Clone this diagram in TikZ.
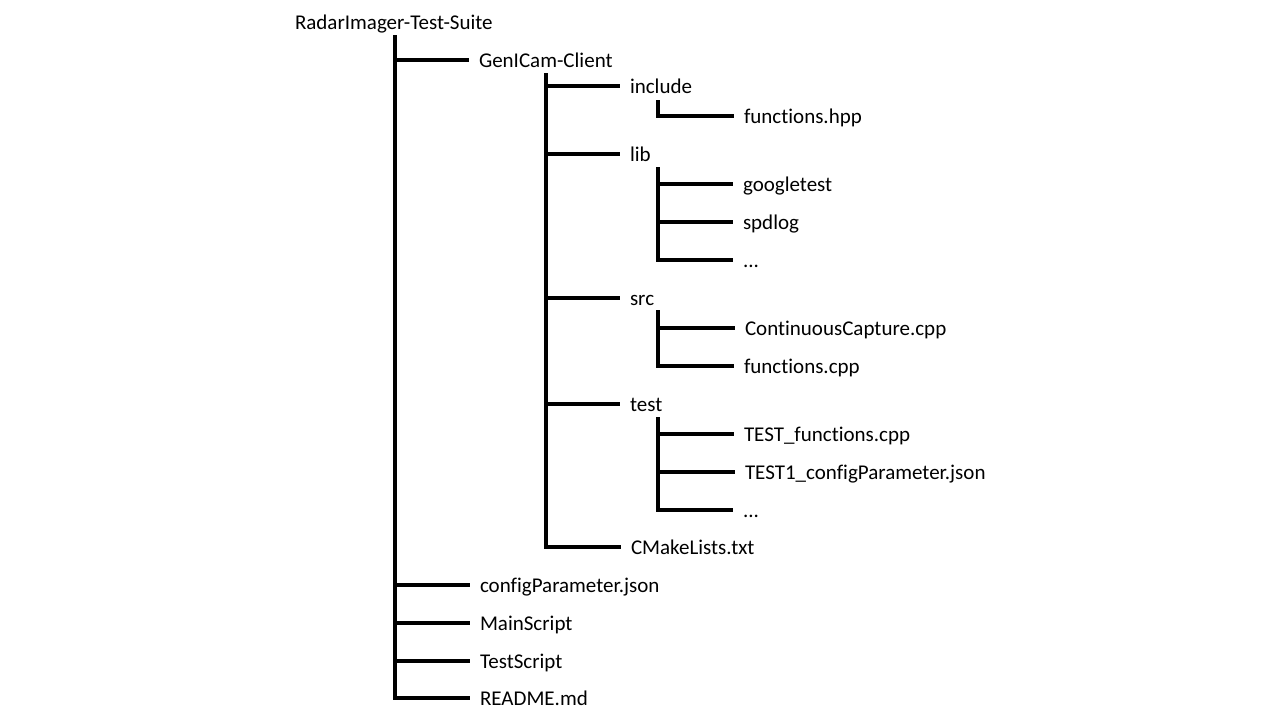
\documentclass[tikz,border=0pt]{standalone}
\usepackage{fontspec}
\setmainfont{Carlito}[Ligatures=NoCommon]
\usepackage{tikz}

\begin{document}
\begin{tikzpicture}[x=1pt,y=-1pt,
  entry/.style={anchor=west,inner xsep=10pt,inner ysep=0pt,outer sep=0pt,text height=15pt,text depth=1pt,font=\fontsize{21}{25}\selectfont},
  branch/.style={line width=3.6pt,line join=miter}]

\useasboundingbox (0,0) rectangle (1280,720);

\node[entry] (root) at (285,22) {RadarImager-Test-Suite};
\node[entry] (gen) at (469,60) {GenICam-Client};
\node[entry] (inc) at (620,86) {include};
\node[entry] (fhpp) at (734,116) {functions.hpp};
\node[entry] (lib) at (620,154) {lib};
\node[entry] (gtest) at (733,184) {googletest};
\node[entry] (spd) at (733,222) {spdlog};
\node[entry] (libmore) at (733,260) {...};
\node[entry] (src) at (620,298) {src};
\node[entry] (cap) at (735,328) {ContinuousCapture.cpp};
\node[entry] (fcpp) at (734,366) {functions.cpp};
\node[entry] (test) at (620,404) {test};
\node[entry] (tfunc) at (734,434) {TEST\_functions.cpp};
\node[entry] (tcfg) at (735,472) {TEST1\_configParameter.json};
\node[entry] (testmore) at (733,510) {...};
\node[entry] (cmake) at (621,547) {CMakeLists.txt};
\node[entry] (cfg) at (470,585) {configParameter.json};
\node[entry] (mains) at (470,623) {MainScript};
\node[entry] (tests) at (470,661) {TestScript};
\node[entry] (readme) at (470,698) {README.md};

% trunks
\coordinate (t0) at (395,35);
\coordinate (t1) at (546,73);
\coordinate (t2) at (658,100);
\coordinate (t3) at (658,167);
\coordinate (t4) at (658,310);
\coordinate (t5) at (658,417);

\draw[branch] (t0) |- (gen.west)
  (t0) |- (cfg.west)
  (t0) |- (mains.west)
  (t0) |- (tests.west)
  (t0) |- (readme.west);
\draw[branch] (t1) |- (inc.west)
  (t1) |- (lib.west)
  (t1) |- (src.west)
  (t1) |- (test.west)
  (t1) |- (cmake.west);
\draw[branch] (t2) |- (fhpp.west);
\draw[branch] (t3) |- (gtest.west)
  (t3) |- (spd.west)
  (t3) |- (libmore.west);
\draw[branch] (t4) |- (cap.west)
  (t4) |- (fcpp.west);
\draw[branch] (t5) |- (tfunc.west)
  (t5) |- (tcfg.west)
  (t5) |- (testmore.west);
\end{tikzpicture}
\end{document}
